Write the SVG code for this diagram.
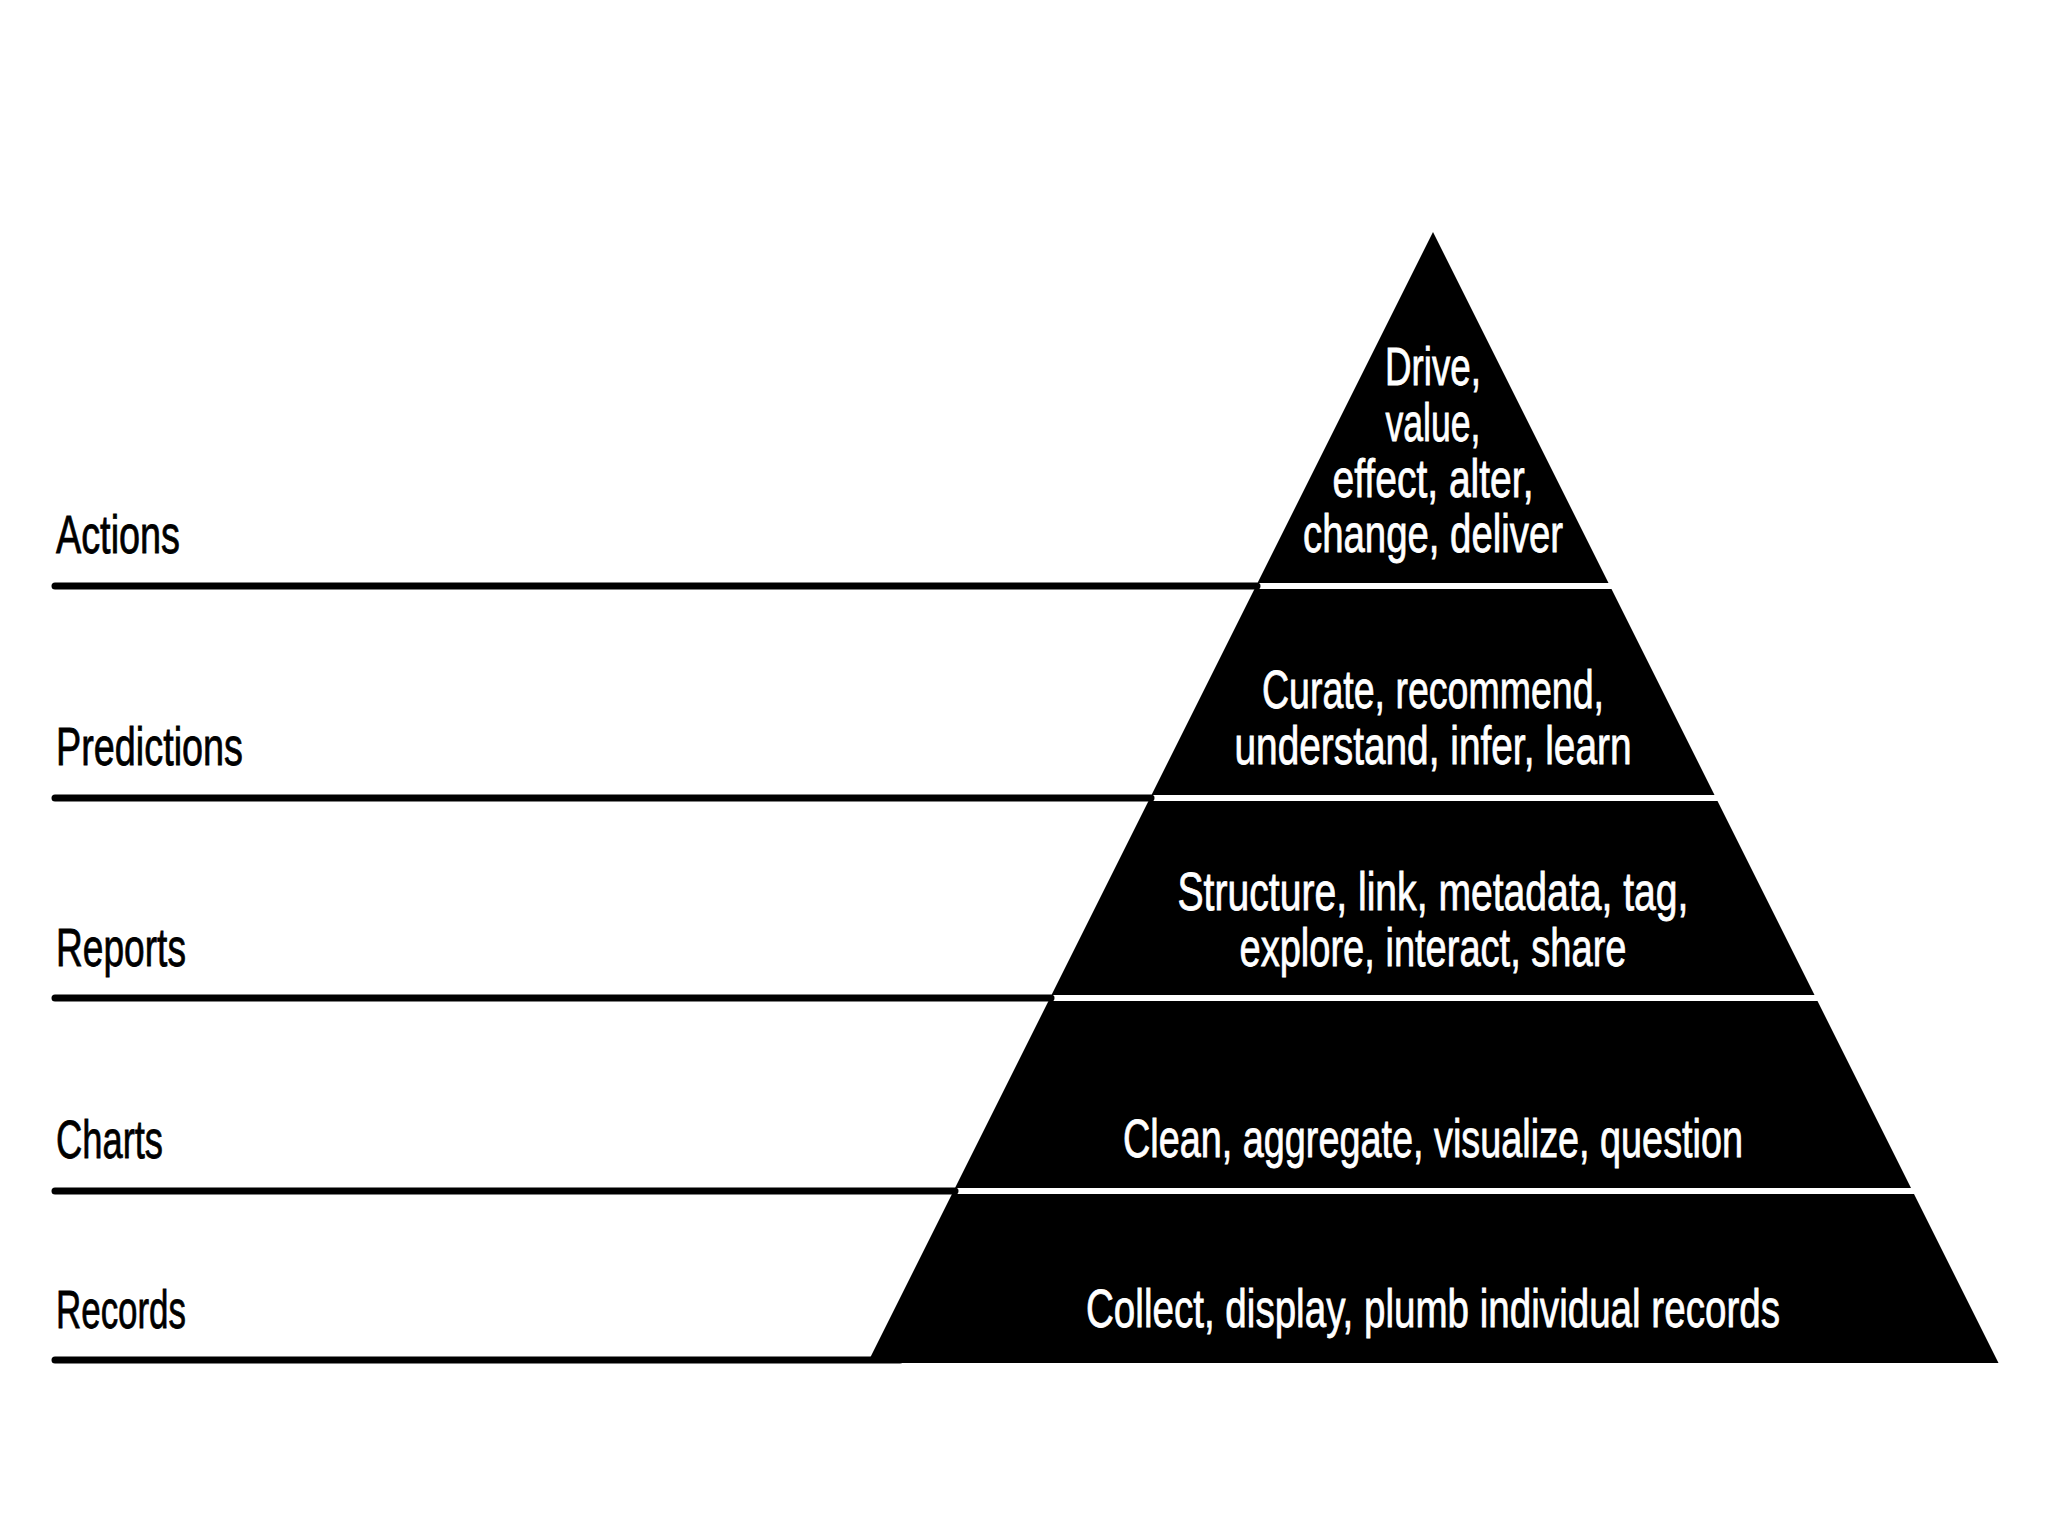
<svg xmlns="http://www.w3.org/2000/svg" width="2048" height="1536" viewBox="0 0 2048 1536">
<style>
.tier{fill:#000}
.rule{stroke:#000;stroke-width:7;fill:none}
.lbl{font-family:"Liberation Sans",Arial,sans-serif;font-size:53px;fill:#000;stroke:#000;stroke-width:0.8}
.in{font-family:"Liberation Sans",Arial,sans-serif;font-size:53px;fill:#fff;stroke:#fff;stroke-width:0.8;text-anchor:middle}
</style>
<rect width="2048" height="1536" fill="#fff"/>
<g id="connectors">
<path class="rule" d="M55 586H1257" stroke-linecap="round"/>
<path class="rule" d="M55 798H1151" stroke-linecap="round"/>
<path class="rule" d="M55 998H1051" stroke-linecap="round"/>
<path class="rule" d="M55 1191H955" stroke-linecap="round"/>
<path class="rule" d="M55 1360H900" stroke-linecap="round"/>
</g>
<g id="tier-actions">
<polygon class="tier" points="1433,232 1608.5,583 1257.5,583"/>
<text class="in" x="1433" y="385" textLength="96" lengthAdjust="spacingAndGlyphs">Drive,</text>
<text class="in" x="1433" y="441" textLength="95" lengthAdjust="spacingAndGlyphs">value,</text>
<text class="in" x="1433" y="497" textLength="201" lengthAdjust="spacingAndGlyphs">effect, alter,</text>
<text class="in" x="1433" y="552" textLength="260" lengthAdjust="spacingAndGlyphs">change, deliver</text>
<text class="lbl" x="56" y="553" textLength="124" lengthAdjust="spacingAndGlyphs">Actions</text>
</g>
<g id="tier-predictions">
<polygon class="tier" points="1254.5,589 1611.5,589 1714.5,795 1151.5,795"/>
<text class="in" x="1433" y="708" textLength="342" lengthAdjust="spacingAndGlyphs">Curate, recommend,</text>
<text class="in" x="1433" y="764" textLength="397" lengthAdjust="spacingAndGlyphs">understand, infer, learn</text>
<text class="lbl" x="56" y="765" textLength="187" lengthAdjust="spacingAndGlyphs">Predictions</text>
</g>
<g id="tier-reports">
<polygon class="tier" points="1148.5,801 1717.5,801 1814.5,995 1051.5,995"/>
<text class="in" x="1433" y="910" textLength="511" lengthAdjust="spacingAndGlyphs">Structure, link, metadata, tag,</text>
<text class="in" x="1433" y="966" textLength="387" lengthAdjust="spacingAndGlyphs">explore, interact, share</text>
<text class="lbl" x="56" y="966" textLength="130" lengthAdjust="spacingAndGlyphs">Reports</text>
</g>
<g id="tier-charts">
<polygon class="tier" points="1048.5,1001 1817.5,1001 1911,1188 955,1188"/>
<text class="in" x="1433" y="1157" textLength="620" lengthAdjust="spacingAndGlyphs">Clean, aggregate, visualize, question</text>
<text class="lbl" x="56" y="1158" textLength="107" lengthAdjust="spacingAndGlyphs">Charts</text>
</g>
<g id="tier-records">
<polygon class="tier" points="952,1194 1914,1194 1998.5,1363 867.5,1363"/>
<text class="in" x="1433" y="1327" textLength="694" lengthAdjust="spacingAndGlyphs">Collect, display, plumb individual records</text>
<text class="lbl" x="56" y="1328" textLength="130" lengthAdjust="spacingAndGlyphs">Records</text>
</g>
</svg>
